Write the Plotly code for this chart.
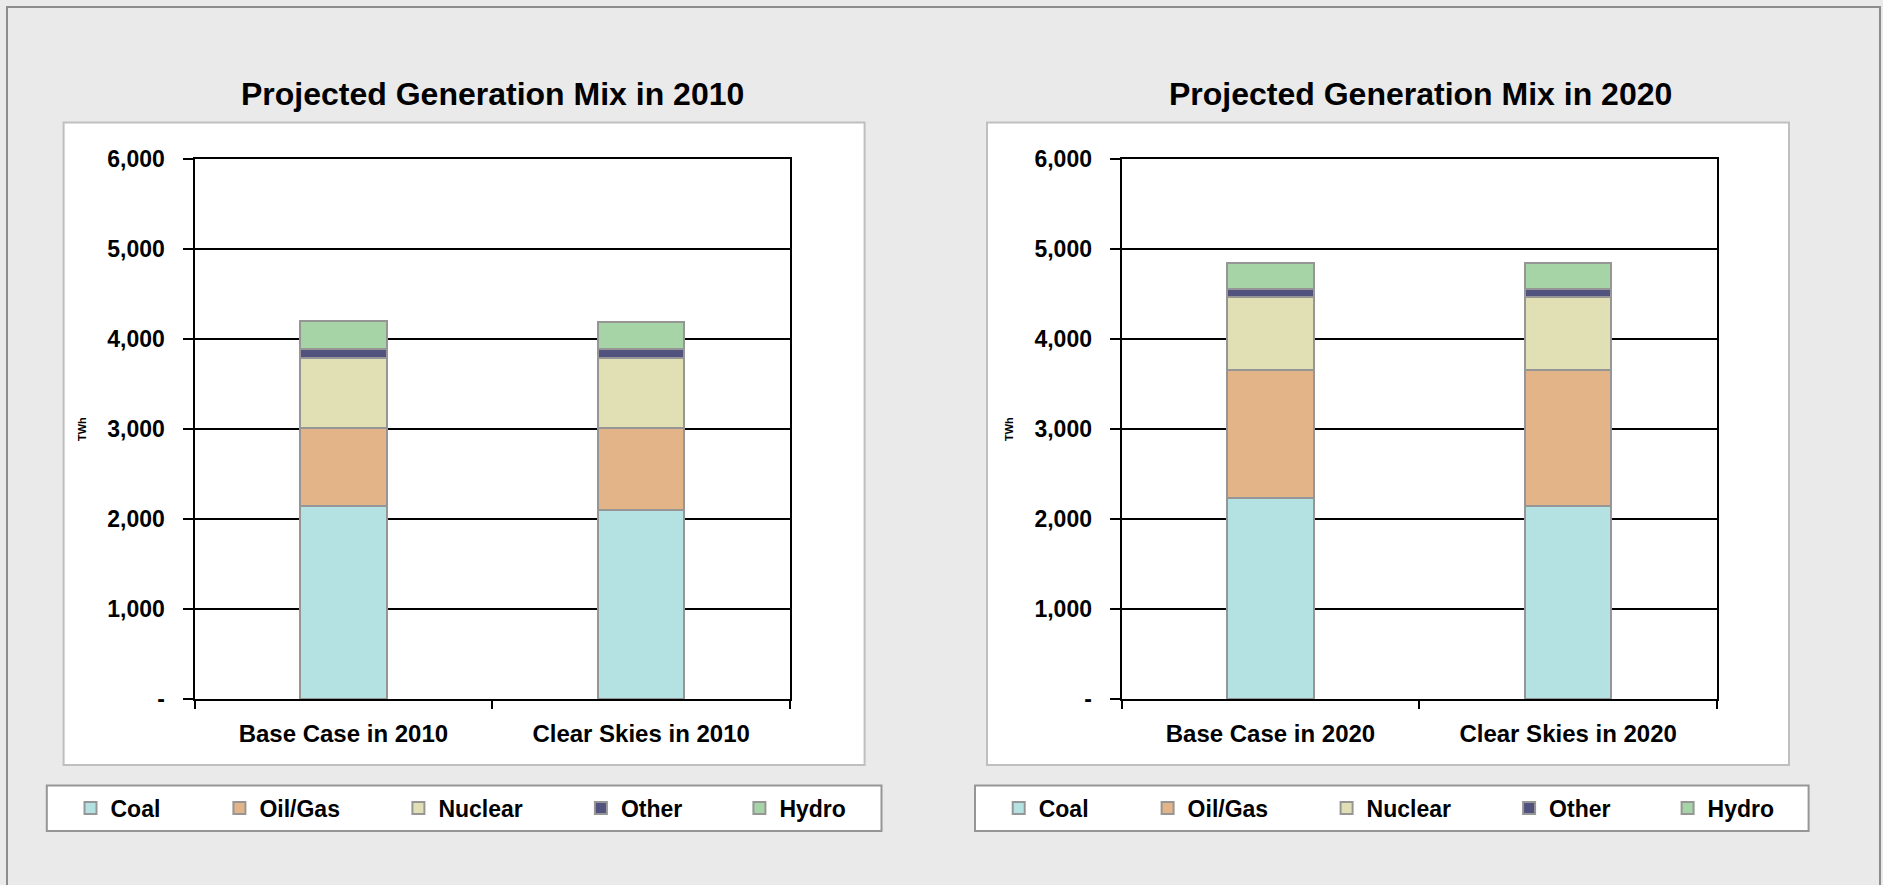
import plotly.graph_objects as go

# chart data (TWh)
categories_2010 = ["Base Case in 2010", "Clear Skies in 2010"]
categories_2020 = ["Base Case in 2020", "Clear Skies in 2020"]
sources = ["Coal", "Oil/Gas", "Nuclear", "Other", "Hydro"]

coal_2010 = [2144, 2100]
oilgas_2010 = [867, 911]
nuclear_2010 = [775, 775]
other_2010 = [103, 103]
hydro_2010 = [311, 292]

coal_2020 = [2230, 2137]
oilgas_2020 = [1426, 1519]
nuclear_2020 = [803, 803]
other_2020 = [97, 97]
hydro_2020 = [288, 288]

y_tickvals = [0, 1000, 2000, 3000, 4000, 5000, 6000]
y_ticktext = ["-", "1,000", "2,000", "3,000", "4,000", "5,000", "6,000"]

colors = ["#B4E1E1", "#E2B487", "#E0E0B4", "#52527F", "#A6D4A6"]

W, H = 1883, 885
FONT = "Liberation Sans, Arial, sans-serif"


def px_x(x):
    return x / W


def px_y(y):
    return 1 - y / H


# legend swatch centres (px) inside each legend box
legend_left = [93.5, 242.4, 421.4, 603.9, 762.4]
legend_right = [1021.7, 1170.6, 1349.6, 1532.1, 1690.6]

fig = go.Figure()

series_2010 = [coal_2010, oilgas_2010, nuclear_2010, other_2010, hydro_2010]
series_2020 = [coal_2020, oilgas_2020, nuclear_2020, other_2020, hydro_2020]

legend_font = dict(family=FONT, size=23, color="black", weight="bold")
legends = {}
n = 0
for cats, series, centres, xa, ya in [
    (categories_2010, series_2010, legend_left, "x", "y"),
    (categories_2020, series_2020, legend_right, "x2", "y2"),
]:
    for name, vals, col, cx in zip(sources, series, colors, centres):
        n += 1
        lid = "legend" if n == 1 else "legend%d" % n
        fig.add_trace(go.Bar(
            x=cats, y=vals, name=name, width=0.29,
            marker=dict(color=col, line=dict(color="#969696", width=2)),
            xaxis=xa, yaxis=ya, legend=lid,
        ))
        legends[lid] = dict(
            x=px_x(cx - 23), y=px_y(808), xanchor="left", yanchor="middle",
            bgcolor="rgba(0,0,0,0)", borderwidth=0, font=legend_font,
        )

xaxis_style = dict(
    type="category", range=[-0.5, 1.5], tickson="boundaries", automargin=False,
    ticks="outside", ticklen=8, tickcolor="black", tickwidth=2,
    showgrid=False, showline=True, mirror=True, linecolor="black", linewidth=2,
    tickfont=dict(family=FONT, size=24, color="black", weight="bold"),
    ticklabelstandoff=12,
)
yaxis_style = dict(
    range=[0, 6000], tickvals=y_tickvals, ticktext=y_ticktext, automargin=False,
    ticks="outside", ticklen=10, tickcolor="black", tickwidth=2,
    showgrid=True, gridcolor="black", gridwidth=2, zeroline=False,
    showline=True, mirror=True, linecolor="black", linewidth=2,
    tickfont=dict(family=FONT, size=23, color="black", weight="bold"),
    ticklabelstandoff=13,
)

fig.update_layout(
    template="none",
    width=W, height=H, autosize=False,
    margin=dict(l=0, r=0, t=0, b=0, pad=0),
    font=dict(family=FONT, color="black"),
    paper_bgcolor="#EAEAEA",
    plot_bgcolor="white",
    barmode="stack",
    showlegend=True,
    xaxis=dict(domain=[px_x(194.5), px_x(790)], anchor="y", **xaxis_style),
    yaxis=dict(domain=[px_y(699), px_y(158.5)], anchor="x", **yaxis_style),
    xaxis2=dict(domain=[px_x(1121.6), px_x(1717)], anchor="y2", **xaxis_style),
    yaxis2=dict(domain=[px_y(699), px_y(158.5)], anchor="x2", **yaxis_style),
    **legends,
)

# outer frame, chart boxes and legend boxes
boxes = [
    (7, 7, 1880, 900, "#EAEAEA", "#8C8C8C"),
    (63.6, 122.5, 864.6, 765, "white", "#BFBFBF"),
    (987, 122.5, 1789, 765, "white", "#BFBFBF"),
    (46.8, 785.4, 881.5, 831, "white", "#969696"),
    (975, 785.4, 1808.6, 831, "white", "#969696"),
]
for x0, y0, x1, y1, fill, line in boxes:
    fig.add_shape(type="rect", xref="paper", yref="paper",
                  x0=px_x(x0), x1=px_x(x1), y0=px_y(y0), y1=px_y(y1),
                  fillcolor=fill, line=dict(color=line, width=2), layer="below")

titles = [("Projected Generation Mix in 2010", 492), ("Projected Generation Mix in 2020", 1420)]
for text, cx in titles:
    fig.add_annotation(text=text, x=px_x(cx), y=px_y(94), xref="paper", yref="paper",
                       showarrow=False, xanchor="center", yanchor="middle",
                       font=dict(family=FONT, size=32, color="black", weight="bold"))

for cx in (82, 1009):
    fig.add_annotation(text="TWh", x=px_x(cx), y=px_y(429), xref="paper", yref="paper",
                       showarrow=False, textangle=-90, xanchor="center", yanchor="middle",
                       font=dict(family=FONT, size=11, color="black", weight="bold"))

fig.write_html("out.html", config={"displayModeBar": False},
               post_script="document.body.style.margin='0';")
